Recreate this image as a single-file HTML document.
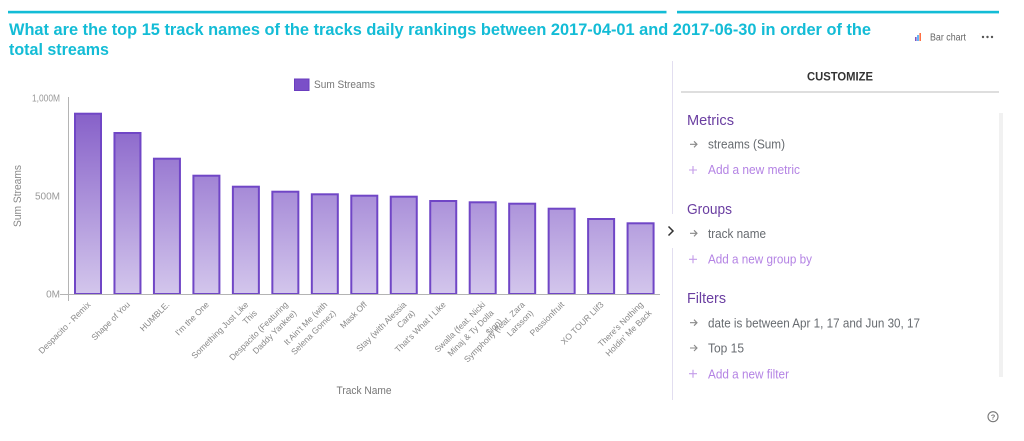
<!DOCTYPE html>
<html><head><meta charset="utf-8"><style>
html,body{margin:0;padding:0;background:#fff;width:1024px;height:441px;overflow:hidden}
svg{display:block;font-family:"Liberation Sans",Arial,sans-serif}
</style></head><body>
<svg width="1024" height="441" viewBox="0 0 1024 441" xmlns="http://www.w3.org/2000/svg">
<defs>
<linearGradient id="g" gradientUnits="userSpaceOnUse" x1="0" y1="98" x2="0" y2="294">
<stop offset="0" stop-color="#8058c6"/><stop offset="1" stop-color="#d3c6ec"/>
</linearGradient>
</defs>
<!-- top bars -->
<rect x="8" y="10.8" width="658.5" height="2.6" fill="#13bcd6"/>
<rect x="677" y="10.8" width="322" height="2.6" fill="#13bcd6"/>
<!-- title -->
<text x="9" y="35" font-size="17" font-weight="bold" fill="#13bcd6" textLength="862" lengthAdjust="spacingAndGlyphs">What are the top 15 track names of the tracks daily rankings between 2017-04-01 and 2017-06-30 in order of the</text>
<text x="9" y="55" font-size="17" font-weight="bold" fill="#13bcd6" textLength="100" lengthAdjust="spacingAndGlyphs">total streams</text>
<!-- bar chart icon -->
<rect x="915" y="37" width="1.6" height="4" fill="#7e57c2"/>
<rect x="917.2" y="35" width="1.6" height="6" fill="#42a5f5"/>
<rect x="919.4" y="33" width="1.6" height="8" fill="#ff7043"/>
<text x="930" y="40.5" font-size="10" fill="#666" textLength="36" lengthAdjust="spacingAndGlyphs">Bar chart</text>
<circle cx="983" cy="37" r="1.2" fill="#555"/><circle cx="987.5" cy="37" r="1.2" fill="#555"/><circle cx="992" cy="37" r="1.2" fill="#555"/>
<!-- legend -->
<rect x="294.5" y="79" width="14.5" height="11.5" fill="#7a4fc8" stroke="#6a3dbf" stroke-width="1"/>
<text x="314" y="88" font-size="11" fill="#777" textLength="61" lengthAdjust="spacingAndGlyphs">Sum Streams</text>
<!-- y axis labels -->
<g font-size="10" fill="#999" text-anchor="end">
<text x="60" y="101.5" textLength="28" lengthAdjust="spacingAndGlyphs">1,000M</text>
<text x="60" y="199.5">500M</text>
<text x="60" y="297.5">0M</text>
</g>
<text transform="translate(17,196) rotate(-90)" text-anchor="middle" dy="0.35em" font-size="11" fill="#888" textLength="62" lengthAdjust="spacingAndGlyphs">Sum Streams</text>
<!-- bars -->
<g fill="url(#g)" stroke="#7046c6" stroke-width="2">
<rect x="75" y="113.7" width="26" height="180.3"/>
<rect x="114.47" y="133" width="26" height="161"/>
<rect x="153.94" y="158.7" width="26" height="135.3"/>
<rect x="193.41" y="175.7" width="26" height="118.3"/>
<rect x="232.88" y="186.7" width="26" height="107.3"/>
<rect x="272.35" y="191.7" width="26" height="102.3"/>
<rect x="311.82" y="194.3" width="26" height="99.7"/>
<rect x="351.29" y="195.7" width="26" height="98.3"/>
<rect x="390.76" y="196.7" width="26" height="97.3"/>
<rect x="430.23" y="201" width="26" height="93"/>
<rect x="469.7" y="202.3" width="26" height="91.7"/>
<rect x="509.17" y="203.7" width="26" height="90.3"/>
<rect x="548.64" y="208.7" width="26" height="85.3"/>
<rect x="588.11" y="219" width="26" height="75"/>
<rect x="627.58" y="223.3" width="26" height="70.7"/>
</g>
<!-- axes -->
<line x1="60" y1="294.5" x2="660" y2="294.5" stroke="#b4b4b4" stroke-width="1"/>
<line x1="68.5" y1="97" x2="68.5" y2="301" stroke="#b4b4b4" stroke-width="1"/>
<!-- x tick labels -->
<g font-size="8.5" fill="#888" text-anchor="end">
<text transform="translate(89,303) rotate(-45)" dy="0.35em">Despacito - Remix</text>
<text transform="translate(128.5,303) rotate(-45)" dy="0.35em">Shape of You</text>
<text transform="translate(168,303) rotate(-45)" dy="0.35em">HUMBLE.</text>
<text transform="translate(207.4,303) rotate(-45)" dy="0.35em">I'm the One</text>
<text transform="translate(246.9,303) rotate(-45)" dy="0.35em"><tspan x="0">Something Just Like</tspan><tspan x="0" dy="12">This</tspan></text>
<text transform="translate(286.4,303) rotate(-45)" dy="0.35em"><tspan x="0">Despacito (Featuring</tspan><tspan x="0" dy="12">Daddy Yankee)</tspan></text>
<text transform="translate(325.8,303) rotate(-45)" dy="0.35em"><tspan x="0">It Ain't Me (with</tspan><tspan x="0" dy="12">Selena Gomez)</tspan></text>
<text transform="translate(365.3,303) rotate(-45)" dy="0.35em">Mask Off</text>
<text transform="translate(404.8,303) rotate(-45)" dy="0.35em"><tspan x="0">Stay (with Alessia</tspan><tspan x="0" dy="12">Cara)</tspan></text>
<text transform="translate(444.2,303) rotate(-45)" dy="0.35em">That's What I Like</text>
<text transform="translate(483.7,303) rotate(-45)" dy="0.35em"><tspan x="0">Swalla (feat. Nicki</tspan><tspan x="0" dy="12">Minaj &amp; Ty Dolla</tspan><tspan x="0" dy="12">$ign)</tspan></text>
<text transform="translate(523.2,303) rotate(-45)" dy="0.35em"><tspan x="0">Symphony (feat. Zara</tspan><tspan x="0" dy="12">Larsson)</tspan></text>
<text transform="translate(562.6,303) rotate(-45)" dy="0.35em">Passionfruit</text>
<text transform="translate(602.1,303) rotate(-45)" dy="0.35em">XO TOUR Llif3</text>
<text transform="translate(641.6,303) rotate(-45)" dy="0.35em"><tspan x="0">There's Nothing</tspan><tspan x="0" dy="12">Holdin' Me Back</tspan></text>
</g>
<text x="364" y="394" text-anchor="middle" font-size="11" fill="#777" textLength="55" lengthAdjust="spacingAndGlyphs">Track Name</text>
<!-- right panel -->
<line x1="672.5" y1="61" x2="672.5" y2="214" stroke="#e2def0" stroke-width="1"/>
<line x1="672.5" y1="248" x2="672.5" y2="400" stroke="#e2def0" stroke-width="1"/>
<path d="M668.5,226.5 L673,231 L668.5,235.5" fill="none" stroke="#333" stroke-width="1.5"/>
<text x="840" y="80.5" text-anchor="middle" font-size="11.5" font-weight="bold" fill="#333" textLength="66" lengthAdjust="spacingAndGlyphs">CUSTOMIZE</text>
<rect x="681" y="91" width="318" height="2" fill="#dedede"/>
<rect x="999" y="113" width="4" height="264" fill="#f1f1f1"/>
<g font-size="15" fill="#6a3ea1">
<text x="687" y="125" textLength="47" lengthAdjust="spacingAndGlyphs">Metrics</text>
<text x="687" y="214" textLength="45" lengthAdjust="spacingAndGlyphs">Groups</text>
<text x="687" y="303" textLength="39" lengthAdjust="spacingAndGlyphs">Filters</text>
</g>
<g font-size="12.5" fill="#676b70">
<text x="708" y="148.5" textLength="77" lengthAdjust="spacingAndGlyphs">streams (Sum)</text>
<text x="708" y="238" textLength="58" lengthAdjust="spacingAndGlyphs">track name</text>
<text x="708" y="327.3" textLength="212" lengthAdjust="spacingAndGlyphs">date is between Apr 1, 17 and Jun 30, 17</text>
<text x="708" y="352.7" textLength="36" lengthAdjust="spacingAndGlyphs">Top 15</text>
</g>
<g font-size="12.5" fill="#b483e4">
<text x="708" y="174" textLength="92" lengthAdjust="spacingAndGlyphs">Add a new metric</text>
<text x="708" y="263.5" textLength="104" lengthAdjust="spacingAndGlyphs">Add a new group by</text>
<text x="708" y="378.3" textLength="81" lengthAdjust="spacingAndGlyphs">Add a new filter</text>
</g>
<g fill="none" stroke="#8a8a8a" stroke-width="1.1">
<path d="M690,144.3 h7 M694,141.3 l3,3 l-3,3"/>
<path d="M690,233.3 h7 M694,230.3 l3,3 l-3,3"/>
<path d="M690,322.7 h7 M694,319.7 l3,3 l-3,3"/>
<path d="M690,348 h7 M694,345 l3,3 l-3,3"/>
</g>
<g fill="none" stroke="#c49ce9" stroke-width="1.1">
<path d="M689,170 h8 M693,166 v8"/>
<path d="M689,259.3 h8 M693,255.3 v8"/>
<path d="M689,373.7 h8 M693,369.7 v8"/>
</g>
<circle cx="993" cy="416.7" r="5" fill="none" stroke="#777" stroke-width="1.1"/>
<text x="993" y="419.5" text-anchor="middle" font-size="7.5" font-weight="bold" fill="#777">?</text>
</svg>
</body></html>
